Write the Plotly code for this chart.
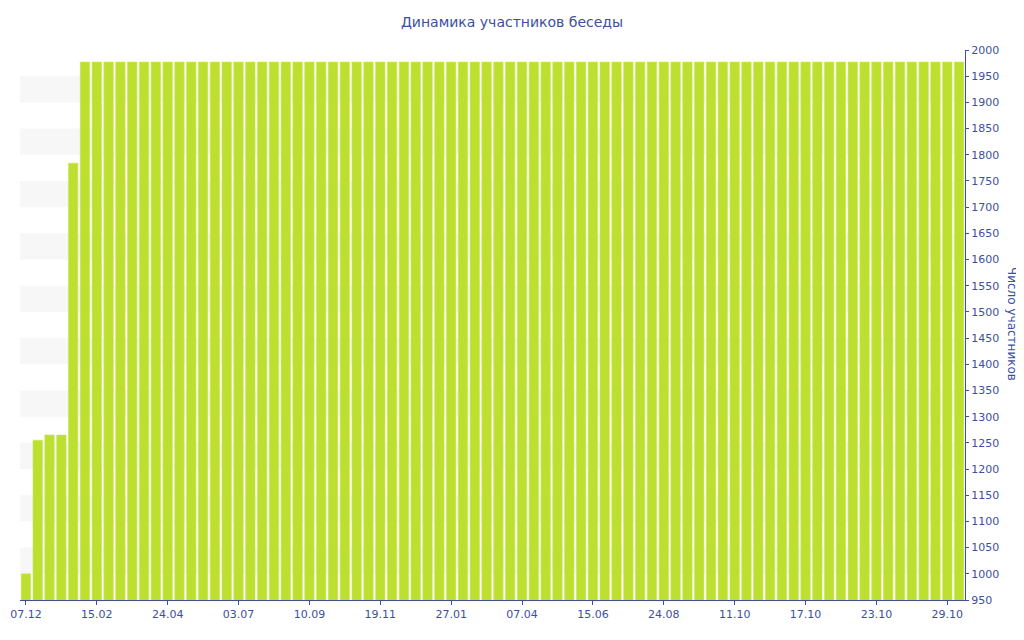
import plotly.graph_objects as go

# Data
n_bars = 80
values = [1000, 1255, 1265, 1265, 1784] + [1977] * 75
tick_labels = ["07.12", "15.02", "24.04", "03.07", "10.09", "19.11", "27.01",
               "07.04", "15.06", "24.08", "11.10", "17.10", "23.10", "29.10"]
tick_positions = [i * 6 for i in range(len(tick_labels))]
y_ticks = list(range(950, 2001, 50))
band_ranges = [(lo, lo + 50) for lo in range(1000, 2000, 100)]

x = list(range(n_bars))
text_color = "#3c4fa0"
bar_color = "#bde030"
font_family = "DejaVu Sans, Verdana, sans-serif"

# The page places the figure 8px from the top-left corner
W, H = 1016, 632

fig = go.Figure()
fig.add_trace(go.Bar(
    x=x, y=values,
    marker=dict(color=bar_color, line=dict(color="#cde65a", width=0.6)),
    hoverinfo="y",
))

shapes = []
for lo, hi in band_ranges:
    shapes.append(dict(type="rect", xref="paper", yref="y", x0=0, x1=1,
                       y0=lo, y1=hi, fillcolor="#f7f7f7", line=dict(width=0),
                       layer="below"))

fig.update_layout(
    width=W, height=H,
    margin=dict(l=12, r=59, t=42, b=40, autoexpand=False),
    paper_bgcolor="white", plot_bgcolor="white",
    bargap=0.2,
    showlegend=False,
    shapes=shapes,
    font=dict(family=font_family, color=text_color, size=11),
    title=dict(text="Динамика участников беседы", x=(512 - 8) / W, xanchor="center",
               y=1 - 14 / H, yanchor="middle",
               font=dict(size=14, color=text_color, family=font_family)),
    xaxis=dict(
        range=[-0.5, n_bars - 0.5],
        tickmode="array", tickvals=tick_positions, ticktext=tick_labels,
        ticks="outside", ticklen=4, tickcolor=text_color,
        showline=True, linecolor=text_color, linewidth=1,
        showgrid=False, zeroline=False,
        tickfont=dict(size=11, color=text_color),
    ),
    yaxis=dict(
        side="right", range=[950, 2000],
        tickmode="array", tickvals=y_ticks,
        ticks="outside", ticklen=3, tickcolor=text_color,
        showline=True, linecolor=text_color, linewidth=1,
        showgrid=False, zeroline=False,
        tickfont=dict(size=11, color=text_color),
    ),
    annotations=[dict(text="Число участников", textangle=90,
                      xref="paper", yref="paper",
                      x=(1012 - 8 - 12) / (W - 12 - 59), y=(592 - 316) / (592 - 42),
                      xanchor="center", yanchor="middle", showarrow=False,
                      font=dict(size=12, color=text_color, family=font_family))],
)

fig.write_html("out.html")
